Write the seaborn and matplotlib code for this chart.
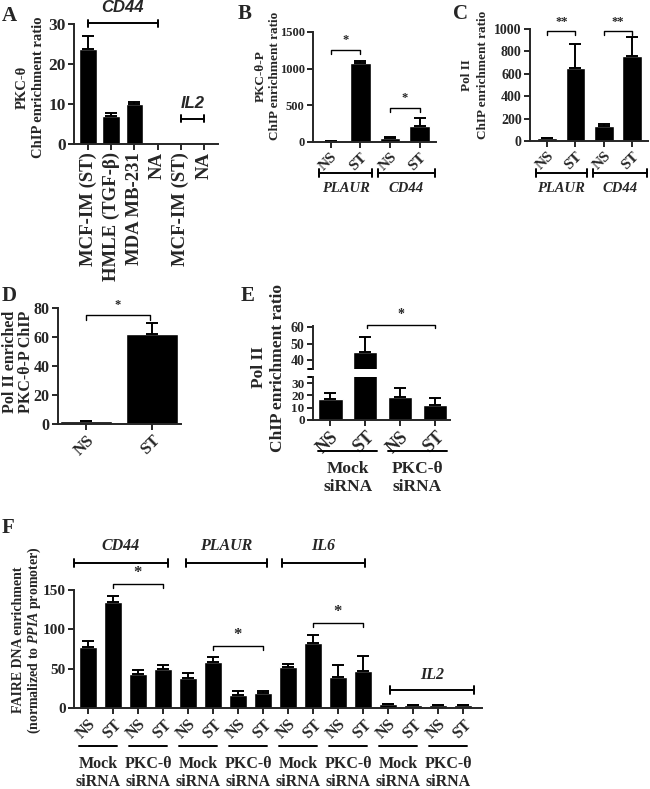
import numpy as np
import pandas as pd
import matplotlib
matplotlib.use("Agg")
import matplotlib.pyplot as plt
import seaborn as sns

# ---- data ----
# A: PKC-theta ChIP
a_labels = ["MCF-IM (ST)", "HMLE (TGF-β)", "MDA MB-231", "NA", "MCF-IM (ST)", "NA"]
a_values = [23.8, 7.1, 9.9, 0.15, 0.35, 0.1]
a_errors = [3.3, 0.6, 0.7, 0.0, 0.0, 0.0]

# B: PKC-theta-P ChIP (PLAUR NS/ST, CD44 NS/ST)
b_labels = ["NS", "ST", "NS", "ST"]
b_values = [5, 1075, 60, 225]
b_errors = [2, 30, 8, 100]

# C: Pol II ChIP
c_labels = ["NS", "ST", "NS", "ST"]
c_values = [25, 650, 130, 760]
c_errors = [5, 220, 25, 165]

# D: Pol II enriched PKC-theta-P ChIP
d_labels = ["NS", "ST"]
d_values = [2.0, 62.0]
d_errors = [0.3, 7.5]

# E: Pol II ChIP after siRNA
e_labels = ["NS", "ST", "NS", "ST"]
e_values = [17, 45, 19, 12.5]
e_errors = [5, 9, 7, 5]
e_groups = ["Mock\nsiRNA", "PKC-θ\nsiRNA"]

# F: FAIRE (CD44, PLAUR, IL6, IL2) x (Mock, PKC-theta siRNA) x (NS, ST)
f_labels = ["NS", "ST"] * 8
f_values = [77, 135, 43, 49, 38, 58, 17, 18.5, 52, 83, 39.5, 46.5, 5, 4, 4, 4]
f_errors = [8, 7, 5, 5.5, 6, 6.5, 4.5, 3.5, 4.5, 10, 15, 19.5, 0.3, 0.2, 0.2, 0.2]
f_groups = ["Mock\nsiRNA", "PKC-θ\nsiRNA"] * 4
f_genes = ["CD44", "PLAUR", "IL6", "IL2"]

sns.set_style("ticks")
plt.rcParams["font.family"] = ["Liberation Serif", "DejaVu Serif"]
plt.rcParams["font.weight"] = "bold"
plt.rcParams["mathtext.fontset"] = "custom"
plt.rcParams["mathtext.it"] = "Liberation Serif:italic:bold"
plt.rcParams["mathtext.rm"] = "Liberation Serif:bold"

W, H = 650, 789
fig = plt.figure(figsize=(W / 100, H / 100), dpi=100)
LW = 1.4


def px_axes(left, top, right, bottom):
    return fig.add_axes([left / W, 1 - bottom / H, (right - left) / W, (bottom - top) / H])


def ftext(x, y, s, **kw):
    fig.text(x / W, 1 - y / H, s, **kw)


def ylab(x, y, s, size):
    ftext(x, y, s, rotation=90, ha="center", va="center", fontsize=size)


def bars(ax, values, errors, width):
    df = pd.DataFrame({"pos": range(len(values)), "value": values})
    sns.barplot(data=df, x="pos", y="value", color="black", saturation=1,
                width=width, errorbar=None, ax=ax)
    pos = np.arange(len(values))
    err = np.asarray(errors, dtype=float)
    m = err > 0
    ax.errorbar(pos[m], np.asarray(values)[m], yerr=[np.zeros(m.sum()), err[m]],
                fmt="none", ecolor="black", elinewidth=LW, capsize=4, capthick=LW)


def style(ax, xlim, ylim, yticks, ysize=11):
    ax.set_xlim(*xlim)
    ax.set_ylim(*ylim)
    ax.set_yticks(yticks)
    sns.despine(ax=ax)
    for s in ("left", "bottom"):
        ax.spines[s].set_linewidth(LW)
    ax.tick_params(direction="out", length=4, width=LW, labelsize=ysize, pad=2)
    ax.set_xlabel("")
    ax.set_ylabel("")


def xlabels45(ax, labels, size=11):
    ax.set_xticks(range(len(labels)))
    ax.set_xticklabels(labels, rotation=45, ha="right", rotation_mode="anchor", fontsize=size)


def bracket(ax, x1, x2, y, leg, text=None, tdy=0, size=9, cap=False):
    # significance bracket (legs down) or range bracket (caps both sides)
    if cap:
        ax.plot([x1, x2], [y, y], color="black", lw=LW, clip_on=False)
        for x in (x1, x2):
            ax.plot([x, x], [y - leg, y + leg], color="black", lw=LW, clip_on=False)
    else:
        ax.plot([x1, x1, x2, x2], [y - leg, y, y, y - leg], color="black", lw=1.0, clip_on=False)
    if text:
        ax.text((x1 + x2) / 2, y + tdy, text, ha="center", va="bottom", fontsize=size,
                clip_on=False)


def under(ax, x1, x2, ypx, box, text=None, tpx=None, size=11, italic=False, cap=False):
    # range line below the axis, y given in figure pixels
    left, top, right, bottom = box
    yf = (bottom - ypx) / (bottom - top)
    tr = ax.get_xaxis_transform()
    ax.plot([x1, x2], [yf, yf], color="black", lw=LW, transform=tr, clip_on=False)
    if cap:
        d = 4 / (bottom - top)
        for x in (x1, x2):
            ax.plot([x, x], [yf - d, yf + d], color="black", lw=LW, transform=tr, clip_on=False)
    if text:
        tf = (bottom - tpx) / (bottom - top)
        ax.text((x1 + x2) / 2, tf, text, transform=tr, ha="center", va="center",
                fontsize=size, style="italic" if italic else "normal", linespacing=1.15,
                clip_on=False)


# ---------- A ----------
axA = px_axes(74, 24, 218, 144)
bars(axA, a_values, a_errors, 0.75)
style(axA, (-0.6, 5.6), (0, 30), [0, 10, 20, 30], ysize=12.5)
axA.set_xticks(range(len(a_labels)))
axA.set_xticklabels(a_labels, rotation=90, ha="center", va="top", fontsize=13.5)
bracket(axA, 0, 3, 30.2, 0.9, cap=True)
axA.text(1.5, 32.2, "CD44", ha="center", va="bottom", fontsize=12, style="italic",
         family="Liberation Sans", clip_on=False)
bracket(axA, 4, 5, 6.3, 0.9, cap=True)
axA.text(4.5, 8.3, "IL2", ha="center", va="bottom", fontsize=12, style="italic",
         family="Liberation Sans", clip_on=False)
ylab(22, 87, "PKC-θ", 10.5)
ylab(39, 87, "ChIP enrichment ratio", 10.5)
ftext(2, 6, "A", fontsize=15, va="top")

# ---------- B ----------
boxB = (313, 32, 436, 142)
axB = px_axes(*boxB)
bars(axB, b_values, b_errors, 0.7)
style(axB, (-0.6, 3.55), (0, 1500), [0, 500, 1000, 1500], ysize=9)
xlabels45(axB, b_labels)
bracket(axB, 0, 1, 1255, 55, "*", tdy=50)
bracket(axB, 2, 3, 464, 55, "*", tdy=50)
under(axB, -0.4, 1.4, 173, boxB, "PLAUR", 188, size=10.5, italic=True, cap=True)
under(axB, 1.6, 3.5, 173, boxB, "CD44", 188, size=10.5, italic=True, cap=True)
ylab(261, 76, "PKC-θ-P", 9.5)
ylab(275, 76, "ChIP enrichment ratio", 9.5)
ftext(238, 4, "B", fontsize=15, va="top")

# ---------- C ----------
boxC = (530, 29, 648, 141)
axC = px_axes(*boxC)
bars(axC, c_values, c_errors, 0.7)
style(axC, (-0.6, 3.55), (0, 1000), [0, 200, 400, 600, 800, 1000], ysize=10)
xlabels45(axC, c_labels)
bracket(axC, 0, 1, 985, 36, "**", tdy=25)
bracket(axC, 2, 3, 985, 36, "**", tdy=25)
under(axC, -0.4, 1.4, 173, boxC, "PLAUR", 188, size=10.5, italic=True, cap=True)
under(axC, 1.6, 3.5, 173, boxC, "CD44", 188, size=10.5, italic=True, cap=True)
ylab(467, 75, "Pol II", 9.5)
ylab(483, 75, "ChIP enrichment ratio", 9.5)
ftext(453, 4, "C", fontsize=15, va="top")

# ---------- D ----------
axD = px_axes(58, 308, 181, 424)
bars(axD, d_values, d_errors, 0.78)
style(axD, (-0.42, 1.44), (0, 80), [0, 20, 40, 60, 80], ysize=11.5)
xlabels45(axD, d_labels, size=12)
bracket(axD, 0, 0.97, 75, 3, "*", tdy=3)
ylab(10, 362, "Pol II enriched", 11.5)
ylab(26, 362, "PKC-θ-P ChIP", 11.5)
ftext(2, 286, "D", fontsize=15, va="top")

# ---------- E (broken y axis) ----------
boxEu = (313, 326, 450, 369)
boxEl = (313, 377, 450, 420)
axEu = px_axes(*boxEu)
axEl = px_axes(*boxEl)
for ax in (axEu, axEl):
    bars(ax, e_values, e_errors, 0.71)
style(axEu, (-0.49, 3.43), (34.6, 60.6), [40, 50, 60], ysize=10)
style(axEl, (-0.49, 3.43), (0, 34.9), [0, 10, 20, 30], ysize=9.5)
axEu.spines["bottom"].set_visible(False)
axEu.tick_params(axis="x", bottom=False, labelbottom=False)
axEu.plot([-0.035, 0], [0, 0], transform=axEu.transAxes, color="black", lw=LW, clip_on=False)
axEl.plot([-0.035, 0], [1, 1], transform=axEl.transAxes, color="black", lw=LW, clip_on=False)
xlabels45(axEl, e_labels, size=13)
bracket(axEu, 1.05, 3, 61.2, 2.0, "*", tdy=2.5, size=10)
for i, g in enumerate(e_groups):
    under(axEl, 2 * i - 0.35, 2 * i + 1.35, 451, boxEl, g, 478, size=12.5)
ylab(259, 367, "Pol II", 12.5)
ylab(278, 368, "ChIP enrichment ratio", 12.5)
ftext(241, 286, "E", fontsize=15, va="top")

# ---------- F ----------
boxF = (74, 590, 482, 708)
axF = px_axes(*boxF)
bars(axF, f_values, f_errors, 0.7)
style(axF, (-0.56, 15.76), (0, 150), [0, 50, 100, 150], ysize=11)
xlabels45(axF, f_labels, size=11.5)
gene_spans = [(-0.56, 3.2), (3.9, 7.15), (7.75, 11.1), (12.1, 15.45)]
for (x1, x2), g in zip(gene_spans[:3], f_genes[:3]):
    bracket(axF, x1, x2, 184, 5, cap=True)
    axF.text((x1 + x2) / 2, 196, g, ha="center", va="bottom", fontsize=11.5, style="italic",
             clip_on=False)
x1, x2 = gene_spans[3]
bracket(axF, x1, x2, 23, 5, cap=True)
axF.text((x1 + x2) / 2, 32, f_genes[3], ha="center", va="bottom", fontsize=11.5, style="italic")
bracket(axF, 1, 3, 157.5, 5, "*", tdy=4, size=12)
bracket(axF, 5, 7, 79, 5, "*", tdy=4, size=12)
bracket(axF, 9, 11, 108, 5, "*", tdy=4, size=12)
for i, g in enumerate(f_groups):
    under(axF, 2 * i - 0.35, 2 * i + 1.15, 746, boxF, g, 773, size=11.5)
ylab(19, 640, "FAIRE DNA enrichment", 10)
ylab(34, 640, "(normalized to $\\mathit{PPIA}$ promoter)", 10)
ftext(2, 518, "F", fontsize=15, va="top")

fig.savefig("out.png", dpi=100)
